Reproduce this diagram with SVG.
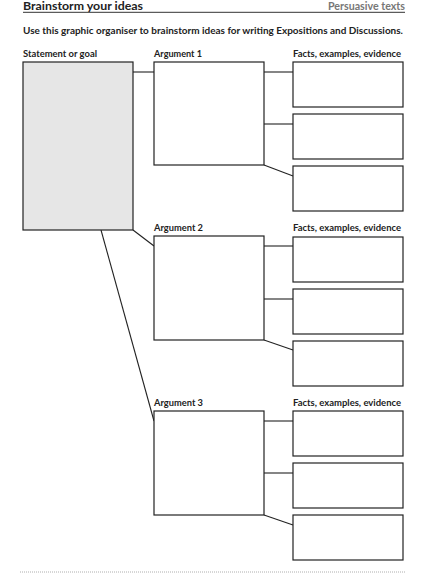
<svg xmlns="http://www.w3.org/2000/svg" width="438" height="576" viewBox="0 0 438 576">
<style>
.box{fill:#fff;stroke:#222;stroke-width:1.2}
.stmt{fill:#e6e6e6;stroke:#222;stroke-width:1.2}
.conn line{stroke:#222;stroke-width:1.1}
.lbl{font-family:Lato,"Open Sans",sans-serif;font-weight:bold;font-size:8.6px;fill:#222}
.title{font-family:Lato,"Open Sans",sans-serif;font-weight:bold;font-size:10.5px;fill:#222}
.sub{font-family:Lato,"Open Sans",sans-serif;font-weight:bold;font-size:9.3px;fill:#222}
</style>
<rect width="438" height="576" fill="#fff"/>
<text class="title" x="23" y="10.4" textLength="120" lengthAdjust="spacingAndGlyphs">Brainstorm your ideas</text>
<text class="title" x="328" y="10.4" textLength="77" lengthAdjust="spacingAndGlyphs" style="fill:#777">Persuasive texts</text>
<line x1="23" y1="12.3" x2="405" y2="12.3" stroke="#333" stroke-width="1"/>
<text class="sub" x="23" y="34" textLength="380" lengthAdjust="spacingAndGlyphs">Use this graphic organiser to brainstorm ideas for writing Expositions and Discussions.</text>

<g id="labels">
<text class="lbl" x="23" y="56.5" textLength="74" lengthAdjust="spacingAndGlyphs">Statement or goal</text>
<text class="lbl" x="154" y="56.5" textLength="48" lengthAdjust="spacingAndGlyphs">Argument 1</text>
<text class="lbl" x="293" y="56.5" textLength="108" lengthAdjust="spacingAndGlyphs">Facts, examples, evidence</text>
<text class="lbl" x="154" y="231" textLength="49" lengthAdjust="spacingAndGlyphs">Argument 2</text>
<text class="lbl" x="293" y="231" textLength="108" lengthAdjust="spacingAndGlyphs">Facts, examples, evidence</text>
<text class="lbl" x="154" y="406" textLength="49" lengthAdjust="spacingAndGlyphs">Argument 3</text>
<text class="lbl" x="293" y="406" textLength="108" lengthAdjust="spacingAndGlyphs">Facts, examples, evidence</text>
</g>

<g class="conn" id="connectors">
<line x1="133" y1="72" x2="154" y2="72"/>
<line x1="133" y1="230" x2="154" y2="246"/>
<line x1="101" y1="230" x2="154" y2="421"/>
<line x1="264" y1="72" x2="293" y2="72"/>
<line x1="264" y1="124" x2="293" y2="124"/>
<line x1="264" y1="165" x2="293" y2="176"/>
<line x1="264" y1="246" x2="293" y2="246"/>
<line x1="264" y1="299" x2="293" y2="299"/>
<line x1="264" y1="340" x2="293" y2="350"/>
<line x1="264" y1="421" x2="293" y2="421"/>
<line x1="264" y1="473" x2="293" y2="473"/>
<line x1="264" y1="515" x2="293" y2="525"/>
</g>

<g id="statement"><rect class="stmt" x="23" y="62" width="110" height="168"/></g>
<g id="arg1"><rect class="box" x="154" y="62" width="110" height="103"/></g>
<g id="f1a"><rect class="box" x="293" y="62" width="110" height="45"/></g>
<g id="f1b"><rect class="box" x="293" y="114" width="110" height="45"/></g>
<g id="f1c"><rect class="box" x="293" y="166" width="110" height="45"/></g>
<g id="arg2"><rect class="box" x="154" y="236" width="110" height="104"/></g>
<g id="f2a"><rect class="box" x="293" y="237" width="110" height="45"/></g>
<g id="f2b"><rect class="box" x="293" y="289" width="110" height="45"/></g>
<g id="f2c"><rect class="box" x="293" y="341" width="110" height="45"/></g>
<g id="arg3"><rect class="box" x="154" y="411" width="110" height="104"/></g>
<g id="f3a"><rect class="box" x="293" y="411" width="110" height="45"/></g>
<g id="f3b"><rect class="box" x="293" y="463" width="110" height="45"/></g>
<g id="f3c"><rect class="box" x="293" y="515" width="110" height="45"/></g>

<line x1="20" y1="572" x2="405" y2="572" stroke="#999" stroke-width="0.8" stroke-dasharray="1 1"/>
</svg>
